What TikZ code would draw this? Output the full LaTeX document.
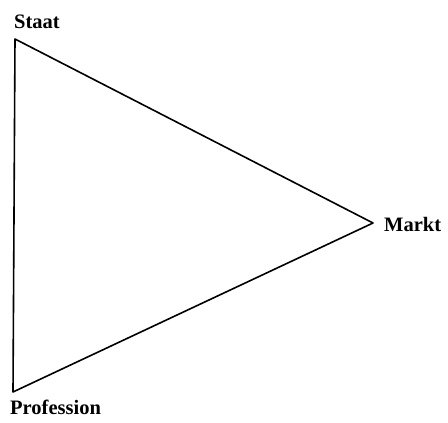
\documentclass[tikz,border=0pt]{standalone}
\usepackage{fontspec}
\setmainfont{Liberation Serif}
\begin{document}
\begin{tikzpicture}[x=1pt,y=-1pt,
  lbl/.style={inner sep=0pt,font=\fontsize{20.5}{22}\selectfont\bfseries},
  edge/.style={line width=1.6pt,line join=round}]
\useasboundingbox (0,0) rectangle (448,423);
\coordinate (S) at (15,39);
\coordinate (M) at (373,223);
\coordinate (P) at (13,392);
\draw[edge] (S) -- (M) -- (P) -- cycle;
\node[lbl,anchor=base west] (ts) at (14,28) {Staat};
\node[lbl,anchor=base west] (tm) at (384,231) {Markt};
\node[lbl,anchor=base west] (tp) at (10,414) {Profession};
\end{tikzpicture}
\end{document}
